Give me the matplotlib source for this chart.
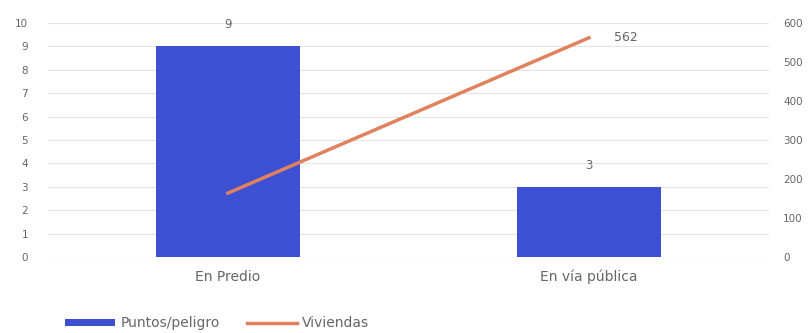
import matplotlib
matplotlib.use("Agg")
import matplotlib.pyplot as plt
from matplotlib.patches import Patch
from matplotlib.lines import Line2D

categories = ["En Predio", "En vía pública"]
bar_values = [9, 3]
line_values = [164, 562]
bar_name = "Puntos/peligro"
line_name = "Viviendas"
left_ticks = list(range(0, 11))
right_ticks = [0, 100, 200, 300, 400, 500, 600]

bar_color = "#3d4fd3"
line_color = "#e0825e"
text_color = "#666666"
plt.rcParams['font.family'] = ['DejaVu Sans']

fig = plt.figure(figsize=(8.12, 3.33), dpi=100)
ax = fig.add_axes([0.0585, 0.228, 0.889, 0.703])
x = list(range(len(categories)))
ax.bar(x, bar_values, width=0.40, color=bar_color, zorder=2)
ax.set_xlim(-0.5, 1.5)
ax.set_ylim(0, 10)
ax.set_yticks(left_ticks)
ax.yaxis.grid(True, color="#e4e4e4", linewidth=0.8, zorder=0)
ax.set_axisbelow(True)
for s in ax.spines.values():
    s.set_visible(False)
ax.tick_params(axis="both", length=0, colors=text_color)
ax.tick_params(axis="y", pad=14, labelsize=7.5)
ax.tick_params(axis="x", pad=9, labelsize=10)
ax.set_xticks(x)
ax.set_xticklabels(categories)
for xi, v in zip(x, bar_values):
    ax.annotate(str(v), (xi, v), xytext=(0, 11), textcoords="offset points",
                ha="center", va="bottom", fontsize=8.5, color=text_color)

ax2 = ax.twinx()
ax2.plot(x, line_values, color=line_color, linewidth=2.5, zorder=3)
ax2.set_ylim(0, 600)
ax2.set_yticks(right_ticks)
for s in ax2.spines.values():
    s.set_visible(False)
ax2.tick_params(axis="y", length=0, labelsize=7.5, colors=text_color, pad=10)
ax2.annotate(str(line_values[-1]), (x[-1], line_values[-1]), xytext=(18, 0),
             textcoords="offset points", ha="left", va="center",
             fontsize=9, color=text_color)

handles = [Patch(facecolor=bar_color, edgecolor="none", label=bar_name),
           Line2D([], [], color=line_color, linewidth=2.5, label=line_name)]
fig.legend(handles=handles, loc="lower left", bbox_to_anchor=(0.065, -0.03),
           ncol=2, frameon=False, fontsize=10, handlelength=3.6,
           handleheight=0.35, handletextpad=0.35, columnspacing=2.0,
           labelcolor=text_color)

fig.savefig("out.png", dpi=100, facecolor="white")
